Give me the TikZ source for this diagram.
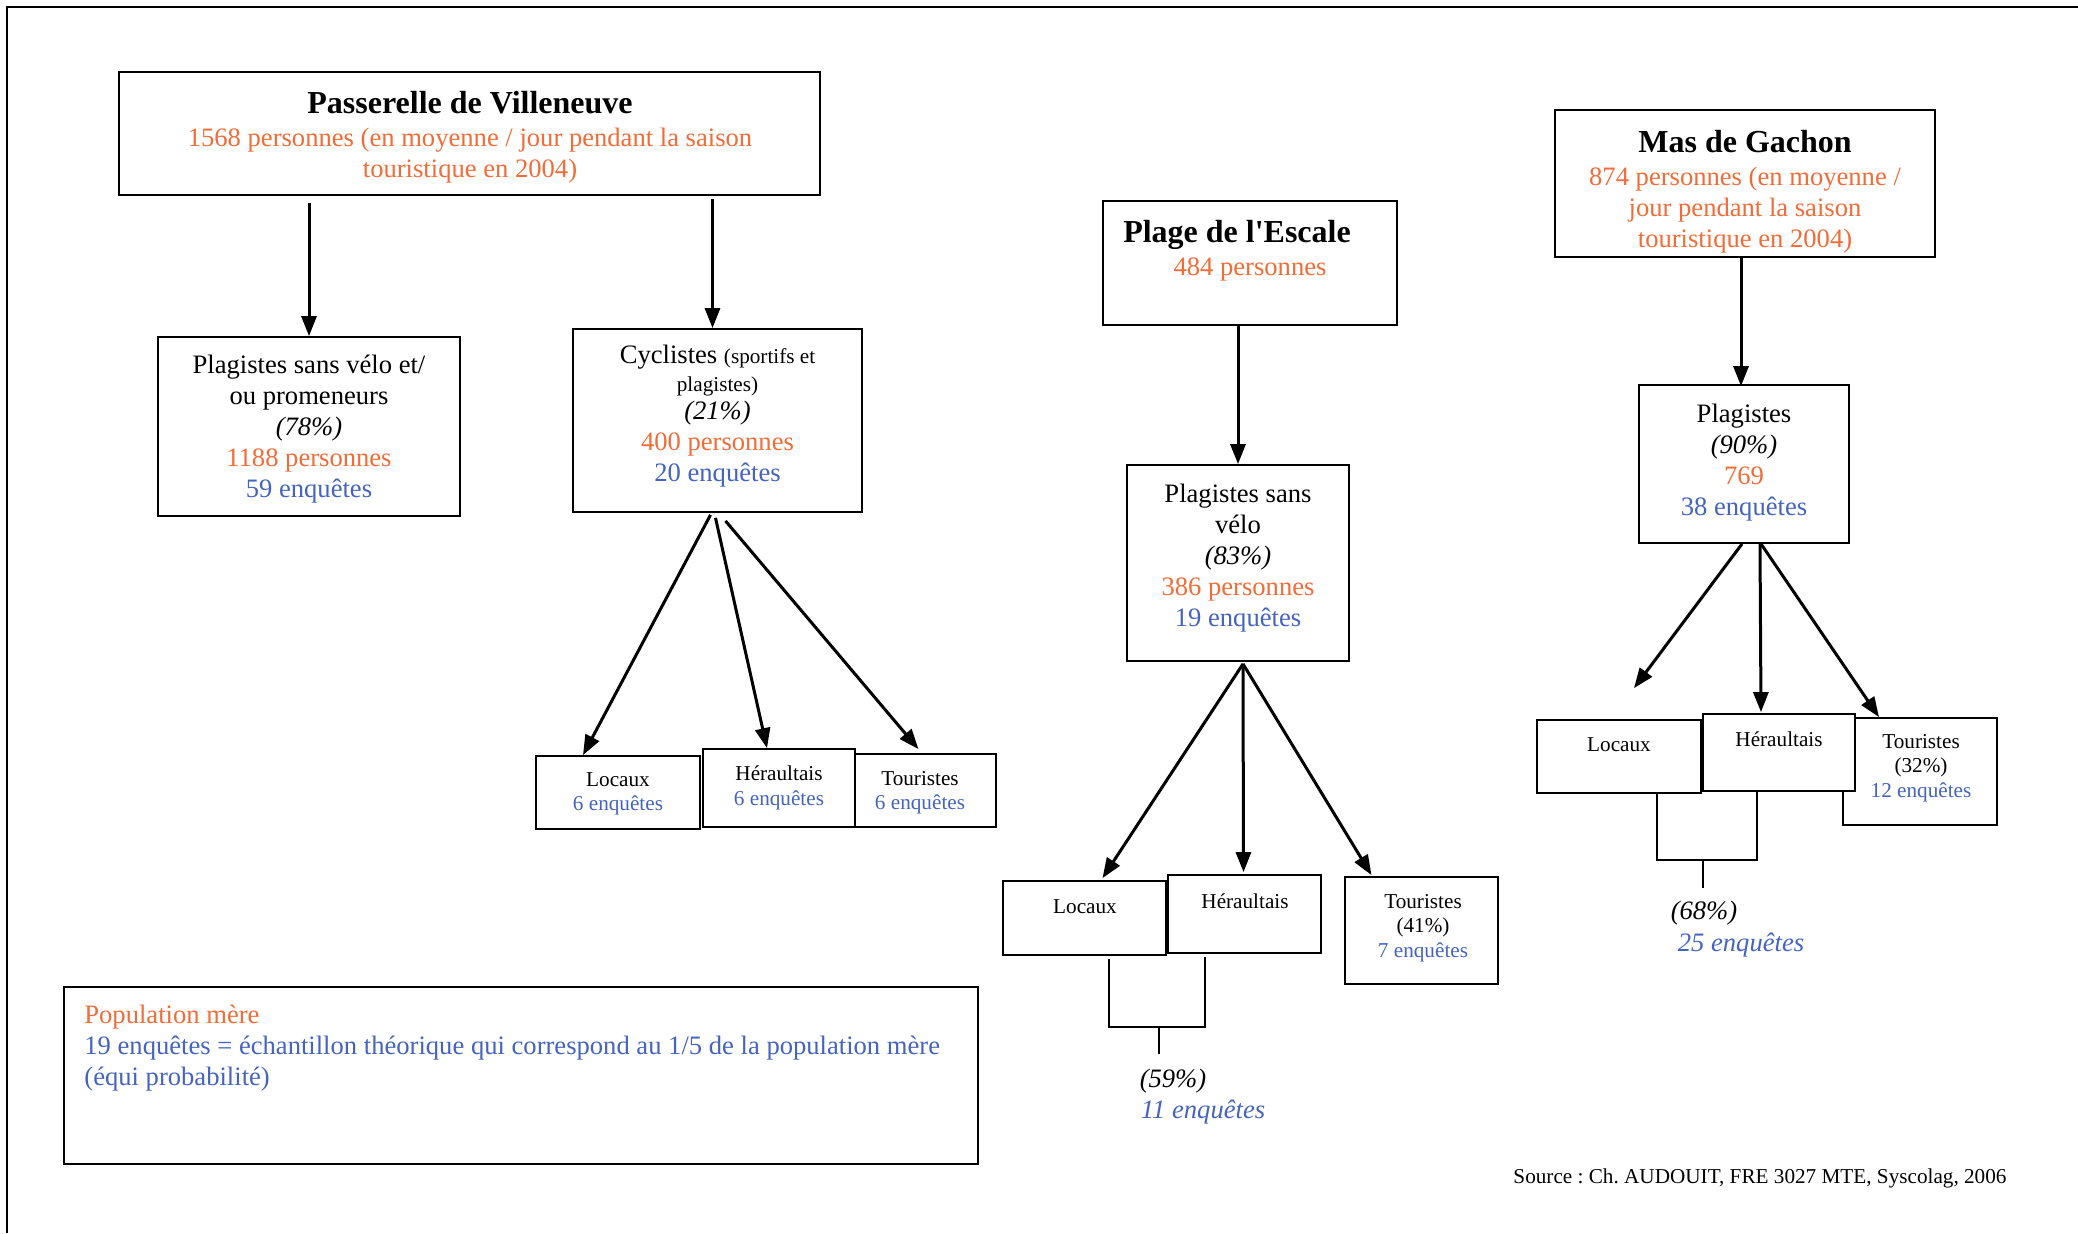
\documentclass[tikz,border=0pt]{standalone}
\usepackage{fontspec}
\setmainfont{Liberation Serif}
\usepackage{xcolor}
\usepackage{tikz}
\usetikzlibrary{arrows.meta,calc}
\definecolor{persorange}{RGB}{242,108,56}
\definecolor{enqblue}{RGB}{68,100,192}
\newcommand{\pers}[1]{\textcolor{persorange}{#1}}
\newcommand{\enq}[1]{\textcolor{enqblue}{#1}}
\newcommand{\sitename}[1]{{\fontsize{16}{17}\selectfont\bfseries #1}}
\newcommand{\smallpart}[1]{{\fontsize{10.6}{12}\selectfont #1}}
\frenchspacing

\begin{document}
\begin{tikzpicture}[x=0.5pt,y=-0.5pt,
  box/.style={draw, line width=0.9pt, fill=white, inner sep=0pt},
  txt/.style={align=center, inner sep=0pt, yshift=-1.5pt, font=\fontsize{13.3}{15.5}\selectfont},
  smalltxt/.style={align=center, inner sep=0pt, yshift=-1pt, font=\fontsize{10.6}{12.2}\selectfont},
  arr/.style={line width=1.5pt, -{Triangle[length=10pt,width=7.5pt]}},
  brk/.style={line width=1pt}]
  \useasboundingbox (0,0) rectangle (2078,1233);
  % frame
  \draw[line width=1pt] (7,1233) -- (7,7) -- (2078,7);

  % Passerelle de Villeneuve
  \node[box, minimum width=350.5pt, minimum height=61.5pt] (A) at (469.5,133.5) {};
  \node[txt] (At) at (470,134) {\sitename{Passerelle de Villeneuve}\\[1pt]
    \pers{1568 personnes (en moyenne / jour pendant la saison}\\
    \pers{touristique en 2004)}};
  \node[box, minimum width=151pt, minimum height=89.5pt] (B1) at (309,426.5) {};
  \node[txt] (B1t) at (309,426.5) {Plagistes sans vélo et/\\ ou promeneurs\\
    \textit{(78\%)}\\ \pers{1188 personnes}\\ \enq{59 enquêtes}};
  \node[box, minimum width=144.5pt, minimum height=91.5pt] (B2) at (717.5,420.5) {};
  \node[txt] (B2t) at (717.5,413.5) {Cyclistes \smallpart{(sportifs et}\\[-1.5pt]
    \smallpart{plagistes)}\\[-1.5pt] \textit{(21\%)}\\ \pers{400 personnes}\\ \enq{20 enquêtes}};
  \node[box, minimum width=82pt, minimum height=36.5pt] (H1) at (618,792.5) {};
  \node[smalltxt] (H1t) at (618,792) {Locaux\\ \enq{6 enquêtes}};
  \node[box, minimum width=70.5pt, minimum height=36.5pt] (H3) at (925.5,790.5) {};
  \node[smalltxt] (H3t) at (920,790.5) {Touristes\\ \enq{6 enquêtes}};
  \node[box, minimum width=76pt, minimum height=39pt] (H2) at (779,788) {};
  \node[smalltxt] (H2t) at (779,786) {Héraultais\\ \enq{6 enquêtes}};

  \draw[arr] ($(A.south -| B1.north)+(0,7)$) -- (B1.north);
  \draw[arr] ($(A.south -| B2.north)+(-5,3)$) -- ($(B2.north)+(-5,0)$);
  \draw[arr] ($(B2.south)+(-7,2)$) -- ($(H1.north)+(-35,0)$);
  \draw[arr] ($(B2.south)+(-2,5)$) -- ($(H2.north)+(-12,0)$);
  \draw[arr] ($(B2.south)+(8,8)$) -- ($(H3.north)+(-7,-4)$);

  % Plage de l'Escale
  \node[box, minimum width=147pt, minimum height=62pt] (C) at (1250,263) {};
  \node[txt] (Ct) at (1237,232) {\sitename{Plage de l\textquotesingle Escale}};
  \node[txt] (Cp) at (1250,266) {\pers{484 personnes}};
  \node[box, minimum width=111pt, minimum height=98pt] (D) at (1238,563) {};
  \node[txt] (Dt) at (1238,555) {Plagistes sans\\ vélo\\ \textit{(83\%)}\\
    \pers{386 personnes}\\ \enq{19 enquêtes}};
  \node[box, minimum width=81.5pt, minimum height=37pt] (I1) at (1084.5,918) {};
  \node[smalltxt] (I1t) at (1085,905) {Locaux};
  \node[box, minimum width=76.5pt, minimum height=39pt] (I2) at (1244.5,914) {};
  \node[smalltxt] (I2t) at (1245,899) {Héraultais};
  \node[box, minimum width=76.5pt, minimum height=53.5pt] (I3) at (1421.5,930.5) {};
  \node[smalltxt] (I3t) at (1423,926) {Touristes\\ (41\%)\\ \enq{7 enquêtes}};

  \draw[arr] (C.south -| D.north) -- (D.north);
  \draw[arr] ($(D.south)+(5,2)$) -- ($(I1.north)+(18,-2)$);
  \draw[arr] ($(D.south)+(5,2)$) -- ($(I2.north)+(-1,-2)$);
  \draw[arr] ($(D.south)+(5,2)$) -- ($(I3.north)+(-50,-1)$);

  \coordinate (ij) at (1159,1027);
  \coordinate (ie) at (1159,1054);
  \draw[brk] ($(I1.south west)+(107,3)$) |- (ij) -| ($(I2.south west)+(38,3)$);
  \draw[brk] (ij) -- (ie);
  \node[txt] (p59) at (1173,1078) {\textit{(59\%)}};
  \node[txt] (q11) at (1203,1109) {\enq{\textit{11 enquêtes}}};

  % Mas de Gachon
  \node[box, minimum width=190pt, minimum height=73.5pt] (E) at (1745,183.5) {};
  \node[txt] (Et) at (1745,188.5) {\sitename{Mas de Gachon}\\[1pt]
    \pers{874 personnes (en moyenne /}\\ \pers{jour pendant la saison}\\
    \pers{touristique en 2004)}};
  \node[box, minimum width=105pt, minimum height=79pt] (F) at (1744,464) {};
  \node[txt] (Ft) at (1744,460) {Plagistes\\ \textit{(90\%)}\\ \pers{769}\\ \enq{38 enquêtes}};
  \node[box, minimum width=82pt, minimum height=36.5pt] (G1) at (1619,756.5) {};
  \node[smalltxt] (G1t) at (1619,743) {Locaux};
  \node[box, minimum width=77pt, minimum height=53.5pt] (G3) at (1920,771.5) {};
  \node[smalltxt] (G3t) at (1921,766) {Touristes\\ (32\%)\\ \enq{12 enquêtes}};
  \node[box, minimum width=76pt, minimum height=38.5pt] (G2) at (1779,752.5) {};
  \node[smalltxt] (G2t) at (1779,737) {Héraultais};

  \coordinate (g1end) at ($(G1.north)+(15,-31)$);
  \draw[arr] ($(E.south)+(-4,0)$) -- ($(F.north)+(-3,2)$);
  \draw[arr] ($(F.south)+(-2,0)$) -- (g1end);
  \draw[arr] ($(F.south)+(16,0)$) -- ($(G2.north)+(-18,-1)$);
  \draw[arr] ($(F.south)+(17,0)$) -- ($(G3.north)+(-41,0)$);

  \coordinate (gj) at (1703,860);
  \coordinate (ge) at (1703,888);
  \draw[brk] ($(G1.south west)+(121,0)$) |- (gj) -| ($(G2.south west)+(55,0)$);
  \draw[brk] (gj) -- (ge);
  \node[txt] (p68) at (1704,910) {\textit{(68\%)}};
  \node[txt] (q25) at (1741,942) {\enq{\textit{25 enquêtes}}};

  % legend and source
  \node[box, minimum width=457pt, minimum height=88.5pt] (L) at (521,1075.5) {};
  \node[txt, align=left, anchor=west] (Lt) at (84,1045) {\pers{Population mère}\\
    \enq{19 enquêtes = échantillon théorique qui correspond au 1/5 de la population mère}\\
    \enq{(équi probabilité)}};
  \node[smalltxt] (src) at (1760,1176) {Source : Ch. AUDOUIT, FRE 3027 MTE, Syscolag, 2006};
\end{tikzpicture}
\end{document}
